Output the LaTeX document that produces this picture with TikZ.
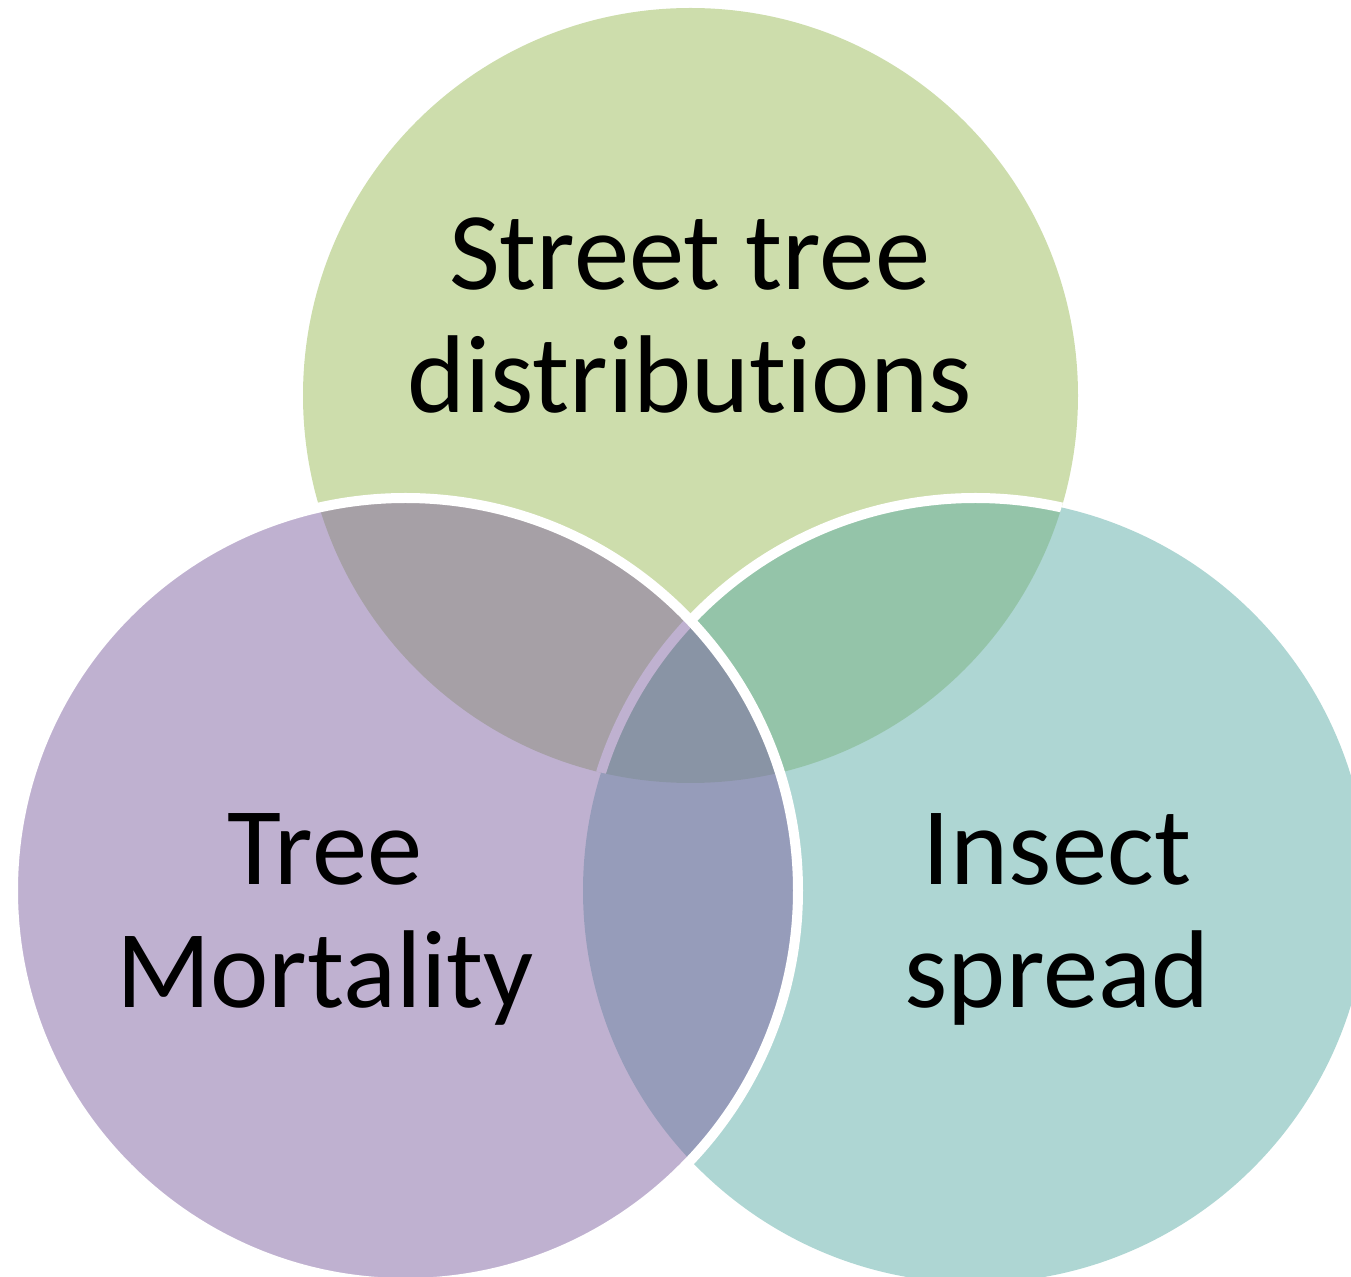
\documentclass[tikz,border=0pt]{standalone}
\usepackage{fontspec}
\setmainfont{Carlito}[Ligatures=NoCommon]
\usepackage{tikz}
\definecolor{vgreen}{HTML}{9BBB59}
\definecolor{vteal}{HTML}{5DADA7}
\definecolor{vpurple}{HTML}{8064A2}

\begin{document}
\begin{tikzpicture}[x=0.5pt, y=-0.5pt,
  venn/.style={circle, minimum size=392.5pt, inner sep=0pt, fill opacity=0.5},
  rim/.style={draw=white, line width=5pt},
  vtext/.style={align=center, anchor=base, inner sep=0pt, font=\fontsize{55.3}{61.5}\selectfont}]
\useasboundingbox (0,0) rectangle (1351,1277);
\node(street)[venn, minimum size=387.5pt, fill=vgreen] at (690.5,395.5){};
\node(insect)[venn, fill=vteal] at (975.5,890.5){};
% white rim of the right set only shows over the top set
\begin{scope}
\clip (street.center) circle (193.75pt);
\draw[rim] (insect.center) circle (196.25pt);
\end{scope}
\node(mortality)[venn, rim, fill=vpurple] at (405.5,890.5){};
% base anchor sits on the last line
\node(streettxt)[vtext] at (689.5,413){Street tree\\distributions};
\node(mortalitytxt)[vtext] at (325,1008){Tree\\Mortality};
\node(insecttxt)[vtext] at (1057,1008){Insect\\spread};
\end{tikzpicture}
\end{document}
